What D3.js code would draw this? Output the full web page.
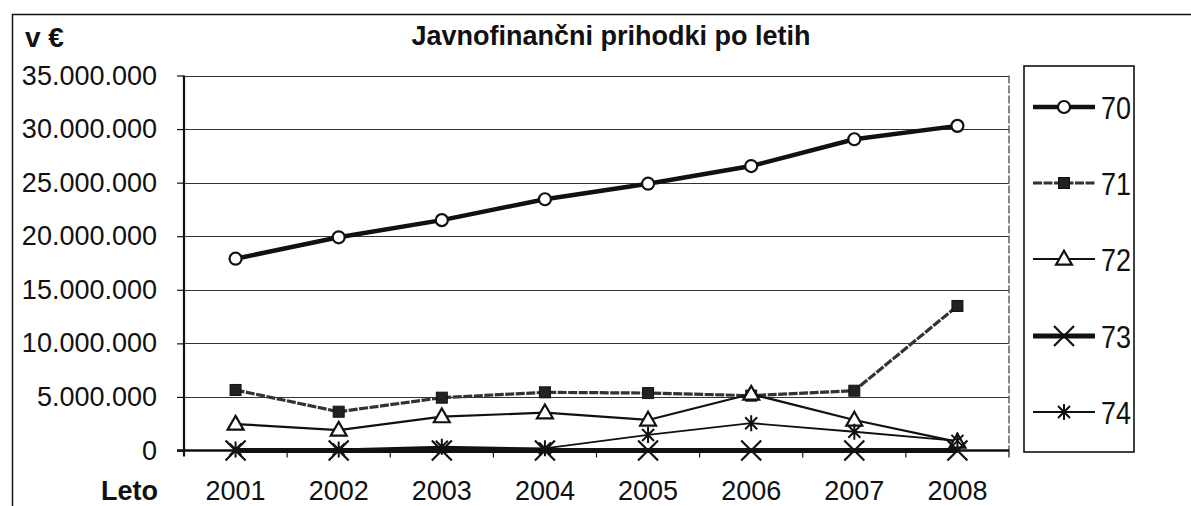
<!DOCTYPE html>
<html>
<head>
<meta charset="utf-8">
<script src="https://cdn.jsdelivr.net/npm/d3@7"></script>
<style>
  body { margin: 0; background: #fff; }
  svg { display: block; font-family: "Liberation Sans", Arial, sans-serif; }
</style>
</head>
<body>
<div id="chart"></div>
<script>
// Data (values in EUR)
const years = ["2001", "2002", "2003", "2004", "2005", "2006", "2007", "2008"];
const series70 = [17900000, 19900000, 21500000, 23450000, 24900000, 26550000, 29050000, 30300000];
const series71 = [5650000, 3620000, 4930000, 5430000, 5360000, 5120000, 5580000, 13490000];
const series72 = [2470000, 1910000, 3160000, 3530000, 2850000, 5270000, 2850000, 800000];
const series73 = [0, 0, 0, 0, 0, 0, 0, 0];
const series74 = [100000, 100000, 350000, 200000, 1450000, 2550000, 1750000, 900000];
const seriesNames = ["70", "71", "72", "73", "74"];
const yTicks = [0, 5000000, 10000000, 15000000, 20000000, 25000000, 30000000, 35000000];

const W = 1191, H = 506;
const plot = { left: 184, right: 1009, top: 75.5, bottom: 450.5 };

const svg = d3.select("#chart").append("svg")
  .attr("width", W).attr("height", H);

// outer frame (only top and left visible in the scan)
svg.append("path")
  .attr("d", "M12.5,506 V14.5 H1191")
  .attr("fill", "none").attr("stroke", "#111").attr("stroke-width", 1.5);

const x = d3.scaleBand().domain(years).range([plot.left, plot.right]);
const y = d3.scaleLinear().domain([0, 35000000]).range([plot.bottom, plot.top]);
const cx = d => x(d) + x.bandwidth() / 2;

// dotted thousands separator
const fmt = v => d3.format(",")(v).replace(/,/g, ".");

// gridlines
svg.append("g").selectAll("line")
  .data(yTicks.filter(t => t > 0))
  .join("line")
  .attr("x1", plot.left).attr("x2", plot.right)
  .attr("y1", d => Math.round(y(d)) + 0.5).attr("y2", d => Math.round(y(d)) + 0.5)
  .attr("stroke", "#333").attr("stroke-width", 1.2);

// right border of plot area
svg.append("line")
  .attr("x1", plot.right).attr("x2", plot.right)
  .attr("y1", plot.top).attr("y2", plot.bottom)
  .attr("stroke", "#555").attr("stroke-width", 1.4).attr("stroke-dasharray", "8,2");

// y axis
const yAxis = d3.axisLeft(y).tickValues(yTicks).tickFormat(fmt).tickSize(7).tickPadding(20);
const gy = svg.append("g").attr("transform", `translate(${plot.left},0)`).call(yAxis);
gy.select(".domain").remove();
gy.selectAll(".tick line").attr("stroke", "#111").attr("stroke-width", 1.2);
gy.selectAll(".tick text").attr("font-size", 27).attr("fill", "#111");
svg.append("line")
  .attr("x1", plot.left).attr("x2", plot.left)
  .attr("y1", plot.top).attr("y2", plot.bottom + 6)
  .attr("stroke", "#111").attr("stroke-width", 2.2);

// x axis
svg.append("line")
  .attr("x1", plot.left - 7).attr("x2", plot.right)
  .attr("y1", plot.bottom).attr("y2", plot.bottom)
  .attr("stroke", "#111").attr("stroke-width", 2.5);
svg.append("g").selectAll("line")
  .data(years.slice(1).concat(["end"]))
  .join("line")
  .attr("x1", (d, i) => plot.left + x.bandwidth() * (i + 1))
  .attr("x2", (d, i) => plot.left + x.bandwidth() * (i + 1))
  .attr("y1", plot.bottom).attr("y2", plot.bottom + 7)
  .attr("stroke", "#111").attr("stroke-width", 1.2);
svg.append("g").selectAll("text")
  .data(years)
  .join("text")
  .attr("x", d => cx(d)).attr("y", 500)
  .attr("text-anchor", "middle").attr("font-size", 27).attr("fill", "#111")
  .text(d => d);

// axis titles and chart title
svg.append("text").attr("x", 158).attr("y", 500).attr("text-anchor", "end")
  .attr("font-size", 27).attr("font-weight", "bold").attr("fill", "#111").text("Leto");
svg.append("text").attr("x", 25).attr("y", 47)
  .attr("font-size", 28).attr("font-weight", "bold").attr("fill", "#111").text("v €");
svg.append("text").attr("x", 611).attr("y", 45).attr("text-anchor", "middle")
  .attr("font-size", 27).attr("font-weight", "bold").attr("fill", "#111")
  .text("Javnofinančni prihodki po letih");

// marker shapes
function xMark(s) { return `M${-s},${-s}L${s},${s}M${-s},${s}L${s},${-s}`; }
function starMark(s) {
  const d = s * 0.75;
  return `M${-d},${-d}L${d},${d}M${-d},${d}L${d},${-d}M0,${-s}L0,${s}`;
}
const styles = [
  { values: series70, lw: 4.5, color: "#111", dash: null,
    mark: g => g.append("circle").attr("r", 6).attr("fill", "#fff").attr("stroke", "#111").attr("stroke-width", 2.2) },
  { values: series71, lw: 3.2, color: "#333", dash: "9,1.5",
    mark: g => g.append("rect").attr("x", -5.5).attr("y", -5.5).attr("width", 11).attr("height", 11)
      .attr("fill", "#222").attr("stroke", "#111").attr("stroke-width", 1) },
  { values: series72, lw: 2.2, color: "#111", dash: null,
    mark: g => g.append("path").attr("d", d3.symbol(d3.symbolTriangle, 110)())
      .attr("transform", "translate(0,1)")
      .attr("fill", "#fff").attr("stroke", "#111").attr("stroke-width", 2.2) },
  { values: series73, lw: 5, color: "#111", dash: null,
    mark: g => g.append("path").attr("d", xMark(10)).attr("stroke", "#111").attr("stroke-width", 2.2) },
  { values: series74, lw: 1.8, color: "#111", dash: null,
    mark: g => g.append("path").attr("d", starMark(8)).attr("stroke", "#111").attr("stroke-width", 2) }
];

const line = d3.line().x((d, i) => cx(years[i])).y(d => y(d));

styles.forEach(s => {
  svg.append("path")
    .attr("d", line(s.values))
    .attr("fill", "none").attr("stroke", s.color).attr("stroke-width", s.lw)
    .attr("stroke-dasharray", s.dash)
    .attr("stroke-linejoin", "round");
});
styles.forEach(s => {
  svg.append("g").selectAll("g")
    .data(s.values)
    .join("g")
    .attr("transform", (d, i) => `translate(${cx(years[i])},${y(d)})`)
    .each(function () { s.mark(d3.select(this)); });
});

// legend
const legend = { left: 1024, right: 1134, top: 66, bottom: 452 };
svg.append("rect")
  .attr("x", legend.left).attr("y", legend.top)
  .attr("width", legend.right - legend.left).attr("height", legend.bottom - legend.top)
  .attr("fill", "#fff").attr("stroke", "#111").attr("stroke-width", 1.6);
const legendY = [107, 183, 259, 336, 412];
styles.forEach((s, i) => {
  const g = svg.append("g").attr("transform", `translate(0,${legendY[i]})`);
  g.append("line").attr("x1", 1033).attr("x2", 1095)
    .attr("stroke", s.color).attr("stroke-width", s.lw).attr("stroke-dasharray", s.dash);
  s.mark(g.append("g").attr("transform", "translate(1064,0)"));
  g.append("text").attr("x", 1101).attr("y", 11.5)
    .attr("font-size", 32).attr("fill", "#111")
    .attr("textLength", 30).attr("lengthAdjust", "spacingAndGlyphs")
    .text(seriesNames[i]);
});
</script>
</body>
</html>
